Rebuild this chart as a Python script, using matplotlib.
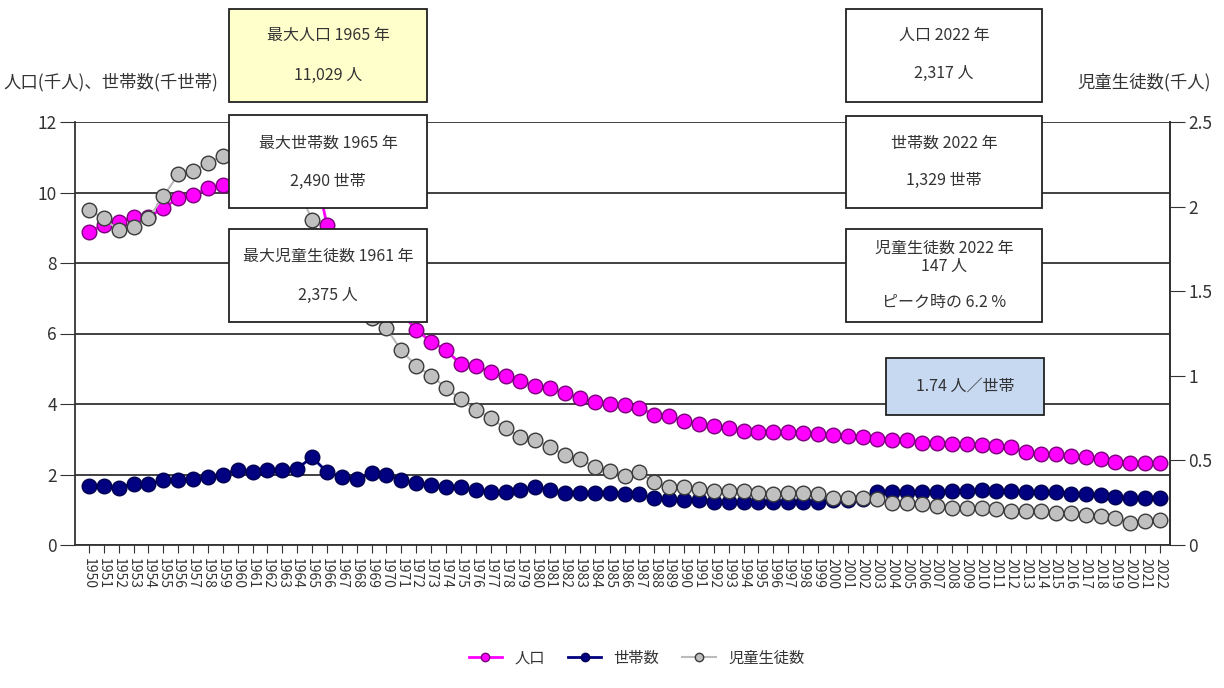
import matplotlib

matplotlib.use("Agg")
import matplotlib.pyplot as plt
import numpy as np
from matplotlib.lines import Line2D
from matplotlib.patches import Rectangle

plt.rcParams["font.family"] = ["Noto Sans CJK JP", "DejaVu Sans"]

YEARS = list(range(1950, 2023))

# 人口 (千人)
POPULATION = [
    8.88, 9.08, 9.15, 9.31, 9.30, 9.56, 9.84, 9.93, 10.13, 10.20,
    10.35, 10.50, 10.65, 10.80, 10.92, 11.029, 9.08, 8.60, 8.10, 7.60,
    7.10, 6.60, 6.10, 5.77, 5.53, 5.13, 5.08, 4.90, 4.80, 4.66,
    4.50, 4.45, 4.30, 4.17, 4.06, 4.00, 3.97, 3.90, 3.69, 3.66,
    3.52, 3.43, 3.38, 3.32, 3.24, 3.21, 3.21, 3.21, 3.18, 3.15,
    3.12, 3.10, 3.06, 3.00, 2.98, 2.98, 2.90, 2.88, 2.87, 2.87,
    2.84, 2.81, 2.77, 2.64, 2.58, 2.58, 2.53, 2.50, 2.45, 2.35,
    2.32, 2.32, 2.317,
]

# 世帯数 (千世帯)
HOUSEHOLDS = [
    1.67, 1.67, 1.62, 1.74, 1.74, 1.83, 1.83, 1.86, 1.93, 2.00,
    2.14, 2.07, 2.12, 2.14, 2.17, 2.490, 2.07, 1.93, 1.87, 2.04,
    1.99, 1.84, 1.76, 1.70, 1.65, 1.65, 1.56, 1.50, 1.50, 1.56,
    1.65, 1.56, 1.48, 1.48, 1.48, 1.47, 1.44, 1.44, 1.33, 1.31,
    1.28, 1.28, 1.22, 1.22, 1.22, 1.22, 1.22, 1.22, 1.22, 1.22,
    1.28, 1.28, 1.30, 1.50, 1.50, 1.50, 1.51, 1.51, 1.54, 1.54,
    1.56, 1.54, 1.54, 1.51, 1.51, 1.51, 1.46, 1.44, 1.41, 1.35,
    1.32, 1.32, 1.329,
]

# 児童生徒数 (千人)
STUDENTS = [
    1.98, 1.93, 1.86, 1.88, 1.93, 2.06, 2.19, 2.21, 2.26, 2.30,
    2.34, 2.375, 2.33, 2.25, 2.12, 1.92, 1.75, 1.60, 1.47, 1.34,
    1.28, 1.15, 1.06, 1.00, 0.93, 0.86, 0.80, 0.75, 0.69, 0.64,
    0.62, 0.58, 0.53, 0.51, 0.46, 0.44, 0.41, 0.43, 0.37, 0.34,
    0.34, 0.33, 0.32, 0.32, 0.32, 0.31, 0.30, 0.31, 0.31, 0.30,
    0.28, 0.28, 0.28, 0.27, 0.25, 0.25, 0.24, 0.23, 0.22, 0.22,
    0.22, 0.21, 0.20, 0.20, 0.20, 0.19, 0.19, 0.18, 0.17, 0.16,
    0.13, 0.14, 0.147,
]

LEFT_TICKS = [0, 2, 4, 6, 8, 10, 12]
RIGHT_TICKS = [0, 0.5, 1, 1.5, 2, 2.5]
RIGHT_TICK_LABELS = ["0", "0.5", "1", "1.5", "2", "2.5"]

W, H = 1224, 688
TEXT = "#333333"


def people(v: float) -> str:
    return f"{int(round(v * 1000)):,}"


def add_box(ax, x0, y0, x1, y1, lines, face="white"):
    ax.add_patch(
        Rectangle((x0, y0), x1 - x0, y1 - y0, facecolor=face,
                  edgecolor="#222222", linewidth=1.3)
    )
    cx = (x0 + x1) / 2
    for y, s in lines:
        ax.text(cx, y, s, ha="center", va="center", fontsize=11.5, color=TEXT)


def main() -> None:
    years = np.array(YEARS)
    pop = np.array(POPULATION)
    hh = np.array(HOUSEHOLDS)
    stu = np.array(STUDENTS)

    fig = plt.figure(figsize=(W / 100, H / 100), dpi=100)
    ax = fig.add_axes([75 / W, 1 - 545 / H, (1170 - 75) / W, (545 - 122) / H])

    ax.plot(years, pop, "-o", color="#FF00FF", lw=2, ms=10.5,
            mfc="#FF00FF", mec="#7A007A", mew=1.0, zorder=3)
    ax.plot(years, hh, "-o", color="#000080", lw=2, ms=10.5,
            mfc="#000080", mec="#000050", mew=1.0, zorder=3)

    ax.set_xlim(1949.06, 2022.67)
    ax.set_ylim(0, 12)
    ax.set_yticks(LEFT_TICKS)
    ax.yaxis.grid(True, color="#333333", linewidth=1.3)
    ax.set_axisbelow(True)
    ax.set_xticks(YEARS)
    ax.set_xticklabels([str(y) for y in YEARS], rotation=270, fontsize=10,
                       color=TEXT)
    ax.tick_params(axis="x", direction="out", length=6, color="#333333")
    ax.tick_params(axis="y", direction="out", length=11, labelsize=12.5,
                   colors=TEXT, pad=2)
    ax.spines["top"].set_visible(False)
    for side in ("left", "right", "bottom"):
        ax.spines[side].set_color("#333333")
        ax.spines[side].set_linewidth(1.3)

    ax2 = ax.twinx()
    ax2.plot(years, stu, "-o", color="#BBBBBB", lw=1.5, ms=10.5,
             mfc="#C0C0C0", mec="#3A3A3A", mew=1.0, zorder=3)
    ax2.set_ylim(0, 2.5)
    ax2.set_yticks(RIGHT_TICKS)
    ax2.set_yticklabels(RIGHT_TICK_LABELS)
    ax2.tick_params(axis="y", direction="out", length=11, labelsize=12.5,
                    colors=TEXT, pad=2)
    for side in ("top", "left", "bottom"):
        ax2.spines[side].set_visible(False)
    ax2.spines["right"].set_color("#333333")
    ax2.spines["right"].set_linewidth(1.3)

    # annotation layer in pixel coordinates
    ov = fig.add_axes([0, 0, 1, 1], zorder=10)
    ov.set_xlim(0, W)
    ov.set_ylim(H, 0)
    ov.axis("off")
    ov.patch.set_alpha(0)

    ov.text(218, 82, "人口(千人)、世帯数(千世帯)", ha="right", va="center",
            fontsize=12.5, color=TEXT)
    ov.text(1077, 82, "児童生徒数(千人)", ha="left", va="center",
            fontsize=12.5, color=TEXT)

    i_pop = int(np.argmax(pop))
    i_hh = int(np.argmax(hh))
    i_stu = int(np.argmax(stu))

    add_box(ov, 229, 9, 427, 102,
            [(35, f"最大人口 {years[i_pop]} 年"), (75, f"{people(pop[i_pop])} 人")],
            face="#FFFFCC")
    add_box(ov, 229, 115, 427, 208,
            [(143, f"最大世帯数 {years[i_hh]} 年"), (181, f"{people(hh[i_hh])} 世帯")])
    add_box(ov, 229, 229, 427, 322,
            [(256, f"最大児童生徒数 {years[i_stu]} 年"), (295, f"{people(stu[i_stu])} 人")])

    last = years[-1]
    add_box(ov, 846, 9, 1042, 102,
            [(35, f"人口 {last} 年"), (73, f"{people(pop[-1])} 人")])
    add_box(ov, 846, 116, 1042, 208,
            [(143, f"世帯数 {last} 年"), (180, f"{people(hh[-1])} 世帯")])
    share = stu[-1] / stu[i_stu] * 100
    add_box(ov, 846, 229, 1042, 322,
            [(248, f"児童生徒数 {last} 年"), (266, f"{people(stu[-1])} 人"),
             (302, f"ピーク時の {share:.1f} %")])
    add_box(ov, 886, 358, 1044, 415,
            [(386, f"{pop[-1] / hh[-1]:.2f} 人／世帯")], face="#C6D9F1")

    handles = [
        Line2D([], [], color="#FF00FF", marker="o", ms=6, mfc="#FF00FF",
               mec="#7A007A", lw=2),
        Line2D([], [], color="#000080", marker="o", ms=6, mfc="#000080",
               mec="#000050", lw=2),
        Line2D([], [], color="#BBBBBB", marker="o", ms=6, mfc="#C0C0C0",
               mec="#3A3A3A", lw=1.5),
    ]
    fig.legend(handles, ["人口", "世帯数", "児童生徒数"], loc="center",
               bbox_to_anchor=(0.52, 1 - 658 / H), ncol=3, frameon=False,
               fontsize=11, handlelength=2.2, columnspacing=1.5,
               labelcolor=TEXT)

    fig.savefig("out.png", dpi=100, facecolor="white")
    plt.close(fig)


if __name__ == "__main__":
    main()
